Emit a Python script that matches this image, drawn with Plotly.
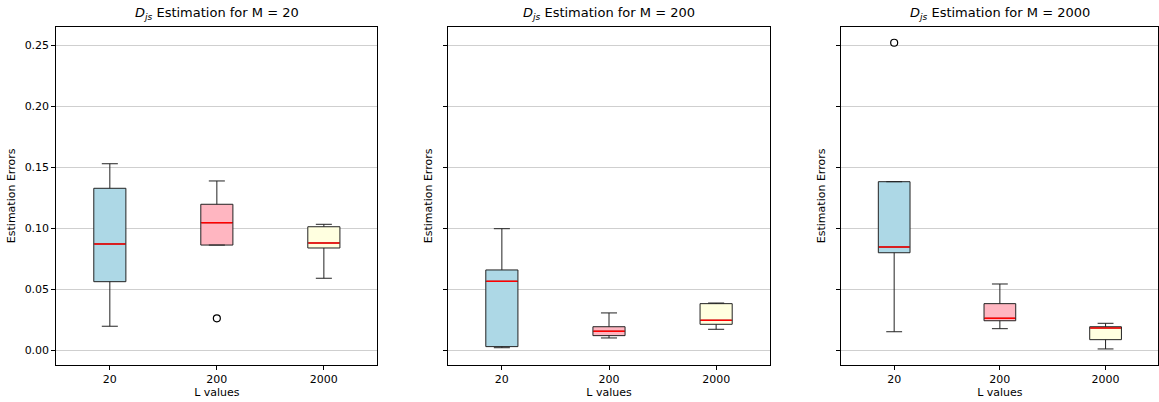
import plotly.graph_objects as go
from plotly.subplots import make_subplots

# ---- data ----
M_values = ["20", "200", "2000"]
L_labels = ["20", "200", "2000"]
L_pos = [1, 2, 3]

# per M panel: lists over L = 20, 200, 2000
lower_whisker = {
    "20":   [0.0197, 0.0862, 0.0590],
    "200":  [0.0021, 0.0101, 0.0172],
    "2000": [0.0152, 0.0177, 0.0011],
}
q1_vals = {
    "20":   [0.0562, 0.0862, 0.0838],
    "200":  [0.0030, 0.0120, 0.0213],
    "2000": [0.0799, 0.0242, 0.0087],
}
median_vals = {
    "20":   [0.0871, 0.1045, 0.0879],
    "200":  [0.0565, 0.0156, 0.0246],
    "2000": [0.0846, 0.0262, 0.0183],
}
q3_vals = {
    "20":   [0.1327, 0.1196, 0.1012],
    "200":  [0.0658, 0.0193, 0.0382],
    "2000": [0.1381, 0.0382, 0.0193],
}
upper_whisker = {
    "20":   [0.1528, 0.1387, 0.1032],
    "200":  [0.0996, 0.0306, 0.0387],
    "2000": [0.1381, 0.0543, 0.0221],
}
# outliers: (L index, value)
outliers = {
    "20":   [(1, 0.0262)],
    "200":  [],
    "2000": [(0, 0.2519)],
}

box_colors = ["#ADD8E6", "#FFB6C1", "#FFFFE0"]
BOX_W = 0.3
FONT = "DejaVu Sans"

fig = make_subplots(rows=1, cols=3, shared_yaxes=True,
                    subplot_titles=[f"<i>D</i><sub><i>js</i></sub> Estimation for M = {m}" for m in M_values])

for c, m in enumerate(M_values, start=1):
    for i, pos in enumerate(L_pos):
        fig.add_trace(go.Box(
            x=[pos], q1=[q1_vals[m][i]], median=[median_vals[m][i]], q3=[q3_vals[m][i]],
            lowerfence=[lower_whisker[m][i]], upperfence=[upper_whisker[m][i]],
            width=BOX_W, whiskerwidth=0.5, fillcolor=box_colors[i],
            line=dict(color="#222222", width=1), boxpoints=False, showlegend=False,
            hoverinfo="skip"), row=1, col=c)
        # red median line over the box
        fig.add_trace(go.Scatter(
            x=[pos - BOX_W / 2 + 0.005, pos + BOX_W / 2 - 0.005],
            y=[median_vals[m][i], median_vals[m][i]],
            mode="lines", line=dict(color="red", width=1.5),
            showlegend=False, hoverinfo="skip"), row=1, col=c)
    if outliers[m]:
        fig.add_trace(go.Scatter(
            x=[L_pos[k] for k, _ in outliers[m]], y=[v for _, v in outliers[m]],
            mode="markers",
            marker=dict(symbol="circle-open", size=7, color="black", line=dict(width=1.2)),
            showlegend=False, hoverinfo="skip"), row=1, col=c)

x_domains = [[0.0486, 0.3256], [0.3868, 0.6641], [0.7259, 0.9995]]
y_domain = [0.0928, 0.9328]

for c in range(1, 4):
    fig.update_xaxes(row=1, col=c, domain=x_domains[c - 1], range=[0.5, 3.5],
                     tickvals=L_pos, ticktext=L_labels, ticks="outside", ticklen=4,
                     tickcolor="black", showgrid=False, zeroline=False, automargin=False,
                     showline=True, linecolor="black", linewidth=1, mirror=True,
                     title=dict(text="L values", font=dict(size=11, color="black"), standoff=2),
                     tickfont=dict(size=11, color="black"))
    fig.update_yaxes(row=1, col=c, domain=y_domain, range=[-0.0118, 0.2648],
                     tickvals=[0, 0.05, 0.10, 0.15, 0.20, 0.25], tickformat=".2f",
                     ticks="outside", ticklen=4, tickcolor="black", automargin=False,
                     showgrid=True, gridcolor="#cfcfcf", gridwidth=1, zeroline=False,
                     showline=True, linecolor="black", linewidth=1, mirror=True,
                     title=dict(text="Estimation Errors", font=dict(size=11, color="black"),
                                standoff=6 if c == 1 else 8),
                     tickfont=dict(size=11, color="black"))

for k, ann in enumerate(fig.layout.annotations):
    ann.font = dict(size=13, color="black", family=FONT)
    ann.x = sum(x_domains[k]) / 2
    ann.y = y_domain[1]
    ann.yanchor = "bottom"
    ann.yshift = 3

fig.update_layout(width=1159, height=402, margin=dict(l=0, r=0, t=0, b=0, autoexpand=False),
                  plot_bgcolor="white", paper_bgcolor="white",
                  font=dict(family=FONT, color="black"))

fig.write_html("out.html", config={"displayModeBar": False},
               post_script="document.body.style.margin='0';document.body.style.overflow='hidden';")
